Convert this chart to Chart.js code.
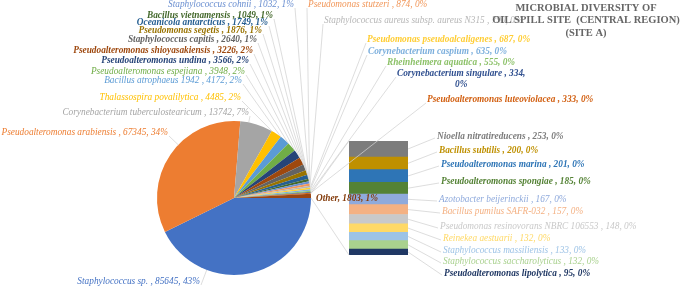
<!DOCTYPE html>
<html>
<head>
<meta charset="utf-8">
<script src="https://cdn.jsdelivr.net/npm/chart.js@4.4.0/dist/chart.umd.min.js"></script>
<style>
html, body { margin:0; padding:0; background:#fff; }
#wrap { position:relative; width:685px; height:288px; }
#wrap canvas { position:absolute; left:0; top:0; }
</style>
</head>
<body>
<div id="wrap">
<canvas id="pieChart" width="685" height="288"></canvas>
<canvas id="barChart" width="685" height="288"></canvas>
</div>
<script>
// pie slices, clockwise starting at 3 o'clock
var pieNames = ['Staphylococcus sp.', 'Pseudoalteromonas arabiensis', 'Corynebacterium tuberculostearicum',
    'Thalassospira povalilytica', 'Bacillus atrophaeus 1942', 'Pseudoalteromonas espejiana',
    'Pseudoalteromonas undina', 'Pseudoalteromonas shioyasakiensis', 'Staphylococcus capitis',
    'Pseudomonas segetis', 'Oceanicola antarcticus', 'Bacillus vietnamensis', 'Staphylococcus cohnii',
    'Pseudomonas stutzeri', 'Staphylococcus aureus subsp. aureus N315', 'Pseudomonas pseudoalcaligenes',
    'Corynebacterium caspium', 'Rheinheimera aquatica', 'Corynebacterium singulare',
    'Pseudoalteromonas luteoviolacea'];
var pieValues = [85645, 67345, 13742, 4485, 4172, 3948, 3566, 3226, 2640, 1876, 1749, 1049, 1032,
    874, 790, 687, 635, 555, 334, 333];
// "Other" slice, split out in the bar (top to bottom)
var otherName = 'Other';
var barNames = ['Nioella nitratireducens', 'Bacillus subtilis', 'Pseudoalteromonas marina',
    'Pseudoalteromonas spongiae', 'Azotobacter beijerinckii', 'Bacillus pumilus SAFR-032',
    'Pseudomonas resinovorans NBRC 106553', 'Reinekea aestuarii', 'Staphylococcus massiliensis',
    'Staphylococcus saccharolyticus', 'Pseudoalteromonas lipolytica'];
var barValues = [253, 200, 201, 185, 167, 157, 148, 132, 133, 132, 95];
var titleLines = ['MICROBIAL DIVERSITY OF', 'OIL SPILL SITE  (CENTRAL REGION)', '(SITE A)'];

// styles
var pieColors = ['#4472C4', '#ED7D31', '#A5A5A5', '#FFC000', '#5B9BD5', '#70AD47', '#264478', '#9E480E',
    '#636363', '#997300', '#255E91', '#43682B', '#698ED0', '#F1975A', '#B7B7B7', '#FFCD33', '#7CAFDD',
    '#8CC168', '#2F4F8F', '#D26012'];
var otherColor = '#9A4612';
var otherTextColor = '#843C0C';
var barColors = ['#7C7C7C', '#BF9000', '#2E75B6', '#548235', '#8FAADC', '#F4B183', '#C9C9C9', '#FFD966',
    '#9DC3E6', '#A9D18E', '#203864'];

// label placement (text positions only)
var pieLabelPos = [
    {x:200, y:282, al:'right', b:false}, {x:168, y:133, al:'right', b:false},
    {x:249, y:113, al:'right', b:false}, {x:241, y:98, al:'right', b:false},
    {x:242, y:81, al:'right', b:false}, {x:245, y:72, al:'right', b:false},
    {x:249, y:61, al:'right', b:true}, {x:253, y:51, al:'right', b:true},
    {x:257, y:40, al:'right', b:true}, {x:262, y:31, al:'right', b:true},
    {x:268, y:23, al:'right', b:true}, {x:273, y:16, al:'right', b:true},
    {x:294, y:5, al:'right', b:false}, {x:308, y:5, al:'left', b:false},
    {x:324, y:21, al:'left', b:false}, {x:367, y:40, al:'left', b:true},
    {x:368, y:52, al:'left', b:true}, {x:387, y:63, al:'left', b:true},
    {x:397, y:74, al:'left', b:true, wrap:true}, {x:427, y:100, al:'left', b:true}
];
var otherLabelPos = {x:316, y:199};
var barLabelPos = [
    {x:437, y:137, b:true}, {x:439, y:151, b:true}, {x:441, y:165, b:true}, {x:441, y:182, b:true},
    {x:439, y:200, b:false}, {x:442, y:212, b:false}, {x:440, y:227, b:false}, {x:443, y:239, b:false},
    {x:443, y:251, b:false}, {x:443, y:262, b:false}, {x:444, y:274, b:true}
];

var FONT = '"Liberation Serif", "Times New Roman", serif';
var LINE = '#D2D2D2';

var otherValue = barValues.reduce(function(a, b){ return a + b; }, 0);
var total = pieValues.reduce(function(a, b){ return a + b; }, 0) + otherValue;
function pct(v){ return Math.round(v / total * 100) + '%'; }

var pieChart = new Chart(document.getElementById('pieChart'), {
    type: 'pie',
    data: {
        labels: pieNames.concat([otherName]),
        datasets: [{
            data: pieValues.concat([otherValue]),
            backgroundColor: pieColors.concat([otherColor]),
            borderWidth: 0
        }]
    },
    options: {
        responsive: false,
        animation: false,
        rotation: 90,
        layout: { padding: { left: 157, right: 374, top: 121, bottom: 13 } },
        plugins: { legend: { display: false }, tooltip: { enabled: false } }
    }
});

// point on the slice edge nearest the label anchor
function edgePoint(arc, ax, ay){
    var a = Math.atan2(ay - arc.y, ax - arc.x);
    var s = arc.startAngle, e = arc.endAngle;
    while (a < s) a += Math.PI * 2;
    while (a >= s + Math.PI * 2) a -= Math.PI * 2;
    if (a > e) a = (a - e < s + Math.PI * 2 - a) ? e : s;
    return [arc.x + Math.cos(a) * arc.outerRadius, arc.y + Math.sin(a) * arc.outerRadius];
}

function line(ctx, x1, y1, x2, y2){
    ctx.beginPath();
    ctx.moveTo(x1, y1);
    ctx.lineTo(x2, y2);
    ctx.stroke();
}

var labelPlugin = {
    id: 'labels',
    afterDraw: function(chart){
        var ctx = chart.ctx;
        var arcs = pieChart.getDatasetMeta(0).data;
        ctx.save();
        ctx.textBaseline = 'middle';
        ctx.lineWidth = 0.75;
        ctx.strokeStyle = LINE;

        // series lines from "Other" slice to the bar
        var bars = chart.getDatasetMeta(0).data; // bottom segment
        var topBar = chart.getDatasetMeta(barValues.length - 1).data[0];
        var oArc = arcs[arcs.length - 1];
        var left = topBar.x - topBar.width / 2;
        line(ctx, oArc.x + Math.cos(oArc.startAngle) * oArc.outerRadius,
            oArc.y + Math.sin(oArc.startAngle) * oArc.outerRadius, left, topBar.y);
        line(ctx, oArc.x + Math.cos(oArc.endAngle) * oArc.outerRadius,
            oArc.y + Math.sin(oArc.endAngle) * oArc.outerRadius, left, bars[0].base);

        // pie labels
        for (var i = 0; i < pieNames.length; i++) {
            var p = pieLabelPos[i];
            ctx.font = 'italic ' + (p.b ? 'bold ' : '') + '9.3px ' + FONT;
            var txt = pieNames[i] + ' , ' + pieValues[i] + ', ' + pct(pieValues[i]);
            var line1 = p.wrap ? pieNames[i] + ' , ' + pieValues[i] + ',' : txt;
            var w = ctx.measureText(line1).width;
            var ax = p.al === 'right' ? p.x + 1 : p.x - 1;
            var ay = p.y + 3;
            var ep = edgePoint(arcs[i], ax, ay);
            ctx.strokeStyle = LINE;
            line(ctx, ep[0], ep[1], ax, ay);
            ctx.fillStyle = pieColors[i];
            ctx.textAlign = p.al;
            ctx.fillText(line1, p.x, p.y);
            if (p.wrap) {
                ctx.textAlign = 'center';
                ctx.fillText(pct(pieValues[i]), p.x + w / 2, p.y + 11);
            }
        }

        // bar labels
        for (var j = 0; j < barNames.length; j++) {
            var q = barLabelPos[j];
            var el = chart.getDatasetMeta(barNames.length - 1 - j).data[0];
            var bx = el.x + el.width / 2;
            var by = (el.y + el.base) / 2;
            ctx.strokeStyle = LINE;
            line(ctx, bx, by, q.x - 2, q.y + 1);
            ctx.font = 'italic ' + (q.b ? 'bold ' : '') + '9.3px ' + FONT;
            ctx.fillStyle = barColors[j];
            ctx.textAlign = 'left';
            ctx.fillText(barNames[j] + ' , ' + barValues[j] + ', ' + pct(barValues[j]), q.x, q.y);
        }

        // other label
        ctx.font = 'italic bold 9.3px ' + FONT;
        ctx.fillStyle = otherTextColor;
        ctx.textAlign = 'left';
        ctx.fillText(otherName + ', ' + otherValue + ', ' + pct(otherValue), otherLabelPos.x, otherLabelPos.y);

        // title
        ctx.font = 'bold 10.5px ' + FONT;
        ctx.fillStyle = '#666666';
        ctx.textAlign = 'center';
        for (var k = 0; k < titleLines.length; k++) {
            ctx.fillText(titleLines[k], 586, 8 + k * 12.5);
        }
        ctx.restore();
    }
};

// stacked bar, bottom segment first
var barDatasets = [];
for (var n = barValues.length - 1; n >= 0; n--) {
    barDatasets.push({
        label: barNames[n],
        data: [barValues[n]],
        backgroundColor: barColors[n],
        borderWidth: 0,
        barPercentage: 1,
        categoryPercentage: 1
    });
}

var barChart = new Chart(document.getElementById('barChart'), {
    type: 'bar',
    data: { labels: [otherName], datasets: barDatasets },
    options: {
        responsive: false,
        animation: false,
        layout: { padding: { left: 349, right: 277, top: 141, bottom: 33 } },
        scales: {
            x: { display: false, stacked: true },
            y: { display: false, stacked: true, min: 0, max: otherValue }
        },
        plugins: { legend: { display: false }, tooltip: { enabled: false } }
    },
    plugins: [labelPlugin]
});
</script>
</body>
</html>
